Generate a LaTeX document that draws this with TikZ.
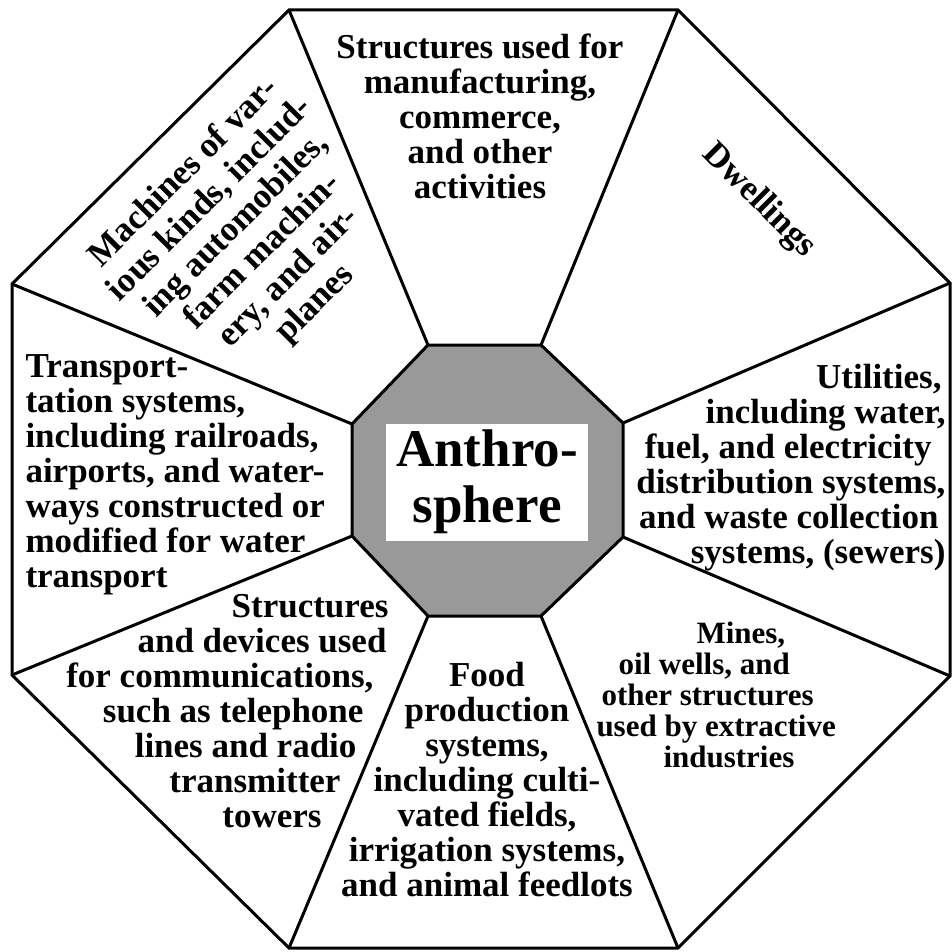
\documentclass[tikz,border=0pt]{standalone}
\usepackage{fontspec}
\setmainfont{Liberation Serif}
\begin{document}
\begin{tikzpicture}[x=1pt, y=-1pt, line width=3pt,
    wedge/.style={inner sep=0pt, font=\fontsize{35}{35}\selectfont\bfseries, execute at begin node=\strut},
    small wedge/.style={wedge, font=\fontsize{31}{31}\selectfont\bfseries},
    tilted wedge/.style={wedge, font=\fontsize{35}{37}\selectfont\bfseries}]
    \useasboundingbox (0,0) rectangle (951,952);

    % outer octagon
    \coordinate (o1) at (289,10);
    \coordinate (o2) at (678,10);
    \coordinate (o3) at (950,283);
    \coordinate (o4) at (950,676);
    \coordinate (o5) at (678,948);
    \coordinate (o6) at (289,948);
    \coordinate (o7) at (12,675);
    \coordinate (o8) at (12,284);
    % inner octagon
    \coordinate (i1) at (428,345);
    \coordinate (i2) at (541,345);
    \coordinate (i3) at (623,423);
    \coordinate (i4) at (623,537);
    \coordinate (i5) at (541,616);
    \coordinate (i6) at (428,616);
    \coordinate (i7) at (352,536);
    \coordinate (i8) at (352,424);

    \draw [fill=black!40] (i1) -- (i2) -- (i3) -- (i4) -- (i5) -- (i6) -- (i7) -- (i8) -- cycle;
    \draw (o1) -- (o2) -- (o3) -- (o4) -- (o5) -- (o6) -- (o7) -- (o8) -- cycle;
    \draw (o1) -- (i1);
    \draw (o2) -- (i2);
    \draw (o3) -- (i3);
    \draw (o4) -- (i4);
    \draw (o5) -- (i5);
    \draw (o6) -- (i6);
    \draw (o7) -- (i7);
    \draw (o8) -- (i8);

    \node (core) [fill=white, minimum width=202pt, minimum height=117pt, inner sep=0pt, align=center, font=\fontsize{53}{56}\selectfont\bfseries] at (487,482) {Anthro-\\sphere};

    \node (trade) [wedge, align=center, anchor=north] at (480,32.5) {Structures used for\\ manufacturing,\\ commerce,\\ and other\\ activities};
    \node (homes) [wedge, rotate=-45] at (758,202) {Dwellings};
    \node (machines) [tilted wedge, align=center, rotate=45] at (251,240) {Machines of var-\\ ious kinds, includ-\\ ing automobiles,\\ farm machin-\\ ery, and air-\\ planes};
    \node (utilities) [wedge, align=right, anchor=north east] at (947,362.5) {Utilities,\rule{4pt}{0pt}\\ including water,\\ fuel, and electricity\rule{14pt}{0pt}\\ distribution systems,\\ and waste collection\rule{7pt}{0pt}\\ systems, (sewers)};
    \node (transport) [wedge, align=left, anchor=north west] at (24,353.5) {Transport-\\ tation systems,\\ including railroads,\\ airports, and water-\\ ways constructed or\\ modified for water\\ transport};
    \node (comms) [wedge, align=right, anchor=north east] at (390,592.5) {Structures\\ and devices used\rule{2pt}{0pt}\\ for communications,\rule{15pt}{0pt}\\ such as telephone\rule{25pt}{0pt}\\ lines and radio\rule{32pt}{0pt}\\ transmitter\rule{48pt}{0pt}\\ towers\rule{67pt}{0pt}};
    \node (food) [wedge, align=center, anchor=north] at (487,660.5) {Food\\ production\\ systems,\\ including culti-\\ vated fields,\\ irrigation systems,\\ and animal feedlots};
    \node (mines) [small wedge, align=left, anchor=north west] at (595,620.3) {\hspace*{100pt}Mines,\\ \hspace*{22pt}oil wells, and\\ \hspace*{5pt}other structures\\ used by extractive\\ \hspace*{67pt}industries};
\end{tikzpicture}
\end{document}
